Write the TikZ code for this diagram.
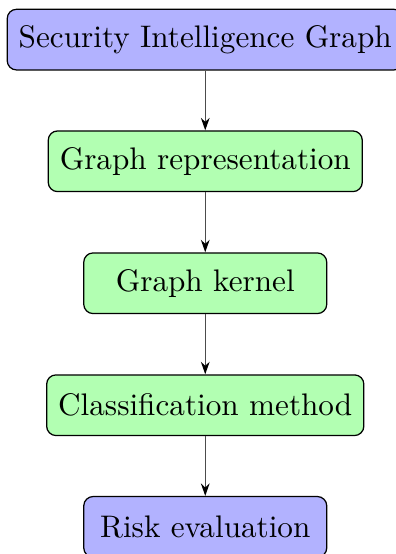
\documentclass[tikz,border=0pt]{standalone}
\usetikzlibrary{arrows.meta}
\begin{document}
\begin{tikzpicture}[
  x=1pt, y=1pt,
  box/.style={draw=black, rounded corners=3pt, minimum width=77.9pt,
    minimum height=19.45pt, inner xsep=3.7pt, align=center},
  endbox/.style={box, fill=blue!30},
  midbox/.style={box, fill=green!30},
  flow/.style={draw=black!70, -{Stealth[length=4pt,width=2.8pt,color=black]}}
]
\useasboundingbox (0,0) rectangle (126.9,-177.6);
\node[endbox] (sig)  at (65.8,-12.7)  {Security Intelligence Graph};
\node[midbox] (rep)  at (65.8,-51.7)  {Graph representation};
\node[midbox] (ker)  at (65.8,-90.8)  {Graph kernel};
\node[midbox] (cls)  at (65.8,-129.9) {Classification method};
\node[endbox] (risk) at (65.8,-168.9) {Risk evaluation};
\draw[flow] (sig) -- (rep);
\draw[flow] (rep) -- (ker);
\draw[flow] (ker) -- (cls);
\draw[flow] (cls) -- (risk);
\end{tikzpicture}
\end{document}
